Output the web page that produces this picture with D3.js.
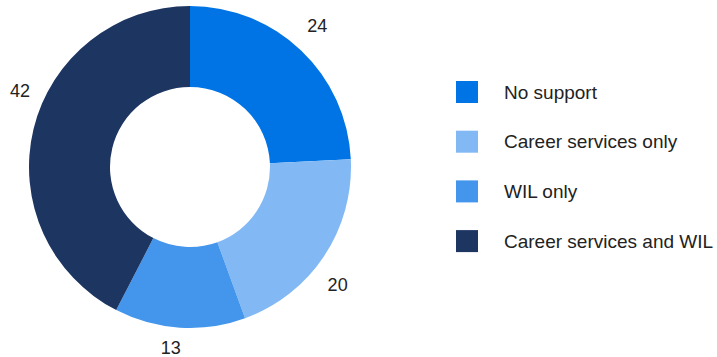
<!DOCTYPE html>
<html>
<head>
<meta charset="utf-8">
<script src="https://cdn.jsdelivr.net/npm/d3@7"></script>
<style>
  body { margin: 0; background: #fff; }
  text { font-family: "Liberation Sans", Arial, sans-serif; fill: #222; }
</style>
</head>
<body>
<div id="canvas"></div>
<script>
"use strict"

/* Chart data */
let categories = ["No support", "Career services only", "WIL only", "Career services and WIL"];
let values = [24, 20, 13, 42];
let colors = ["#0074e4", "#82b9f4", "#4496ec", "#1d3561"];

/* Label placement: nudge (degrees) and distance from centre, per slice */
let labelNudge = [-1.6, 5, 2.4, 10.4];
let labelRadius = [190, 189, 182, 186];

/* Drawing configuration */
let svgWidth = 717;
let svgHeight = 357;
let cx = 190;
let cy = 167;
let outerRadius = 161;
let innerRadius = 80;

let svg = d3.select("#canvas")
    .append("svg")
    .attr("width", svgWidth)
    .attr("height", svgHeight);

let slices = categories.map(function (c, i) {
    return { category: c, value: values[i], color: colors[i] };
});

let pie = d3.pie()
    .sort(null)
    .value(function (d) { return d.value; });

let arc = d3.arc()
    .innerRadius(innerRadius)
    .outerRadius(outerRadius);

let donut = svg.append("g")
    .attr("transform", "translate(" + cx + "," + cy + ")");

let arcs = pie(slices);

donut.selectAll("path")
    .data(arcs)
    .join("path")
    .attr("d", arc)
    .attr("fill", function (d) { return d.data.color; });

/* value labels outside the ring */
donut.selectAll("text")
    .data(arcs)
    .join("text")
    .attr("transform", function (d, i) {
        let mid = (d.startAngle + d.endAngle) / 2 + labelNudge[i] * Math.PI / 180;
        let r = labelRadius[i];
        let pos = d3.arc().innerRadius(r).outerRadius(r)
            .centroid({ startAngle: mid, endAngle: mid });
        return "translate(" + pos + ")";
    })
    .attr("text-anchor", "middle")
    .attr("dominant-baseline", "central")
    .style("font-size", "18px")
    .text(function (d) { return d.data.value; });

/* legend */
let legendX = 456;
let legendTop = 81;
let legendStep = 49.7;
let swatch = 22;

let legend = svg.append("g");

let rows = legend.selectAll("g")
    .data(slices)
    .join("g")
    .attr("transform", function (d, i) {
        return "translate(" + legendX + "," + (legendTop + i * legendStep) + ")";
    });

rows.append("rect")
    .attr("width", swatch)
    .attr("height", swatch)
    .attr("fill", function (d) { return d.color; });

rows.append("text")
    .attr("x", 48)
    .attr("y", swatch / 2)
    .attr("dominant-baseline", "central")
    .style("font-size", "19px")
    .text(function (d) { return d.category; });
</script>
</body>
</html>
